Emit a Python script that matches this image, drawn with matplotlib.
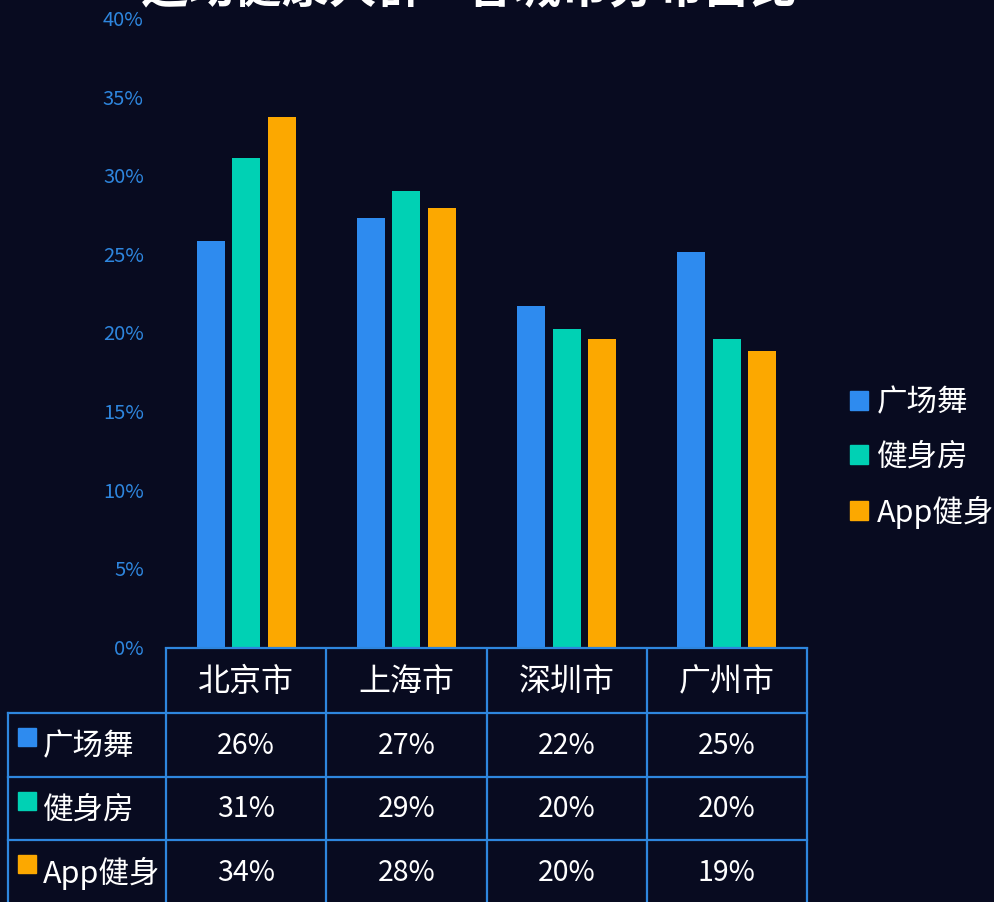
import numpy as np
import matplotlib
matplotlib.use('Agg')
import matplotlib.pyplot as plt
from matplotlib.patches import Patch, Rectangle

plt.rcParams['font.family'] = ['Noto Sans CJK SC', 'DejaVu Sans']

# ---------- 数据 ----------
cities = ['北京市', '上海市', '深圳市', '广州市']
series = ['广场舞', '健身房', 'App健身']
square_dance = [25.8, 27.3, 21.7, 25.1]
gym = [31.1, 29.0, 20.2, 19.6]
app_fitness = [33.7, 27.9, 19.6, 18.8]
yticks = [0, 5, 10, 15, 20, 25, 30, 35, 40]
title = '运动健康人群—各城市分布占比'

colors = ['#2E8BEF', '#00D1B4', '#FCA800']
BG = '#080B20'
LINE = '#2E86DE'

W, H = 994, 902
fig = plt.figure(figsize=(W / 100, H / 100), dpi=100, facecolor=BG)

# ---------- 柱状图 ----------
ax = fig.add_axes([166 / W, 1 - 647 / H, (807 - 166) / W, (647 - 18) / H])
ax.patch.set_alpha(0)
x = np.arange(len(cities))
for k, (vals, c) in enumerate(zip([square_dance, gym, app_fitness], colors)):
    ax.bar(x + (k - 1) * 0.2215, vals, width=0.175, color=c)
ax.set_xlim(-0.5, len(cities) - 0.5)
ax.set_ylim(0, 40)
ax.set_yticks(yticks)
ax.set_yticklabels([f'{v}%' for v in yticks])
ax.set_xticks([])
ax.tick_params(axis='y', length=0, pad=16, labelcolor=LINE, labelsize=14.5)
for s in ax.spines.values():
    s.set_visible(False)

# ---------- 数据表 ----------
tax = fig.add_axes([0, 0, 1, (H - 647) / H])
tax.set_xlim(0, W)
tax.set_ylim(H, 647)
tax.axis('off')

col_w = (807 - 166) / len(cities)
col_edges = [166 + col_w * i for i in range(len(cities) + 1)]
row_edges = [648, 713, 776.5, 840, 903.5]
lw = 1.6
tax.plot([166, 807], [648, 648], color=LINE, lw=lw, clip_on=False)
for y in row_edges[1:4]:
    tax.plot([8, 807], [y, y], color=LINE, lw=lw)
for xe in col_edges:
    tax.plot([xe, xe], [648, 903], color=LINE, lw=lw)
tax.plot([8, 8], [713, 903], color=LINE, lw=lw)

for i, city in enumerate(cities):
    cx = (col_edges[i] + col_edges[i + 1]) / 2
    tax.text(cx, (row_edges[0] + row_edges[1]) / 2 + 2, city, color='white',
             fontsize=23, ha='center', va='center')

for r, (name, vals, c) in enumerate(zip(series, [square_dance, gym, app_fitness], colors)):
    top, bot = row_edges[r + 1], row_edges[r + 2]
    cy = (top + bot) / 2
    tax.add_patch(Rectangle((18, top + 15), 18, 18, color=c))
    tax.text(43, cy + 2, name, color='white', fontsize=22, ha='left', va='center')
    for i, v in enumerate(vals):
        cx = (col_edges[i] + col_edges[i + 1]) / 2
        tax.text(cx, cy + 1, f'{v:.0f}%', color='white', fontsize=20.5,
                 ha='center', va='center')

# ---------- 图例 ----------
handles = [Patch(color=c) for c in colors]
fig.legend(handles, series, loc='center left', bbox_to_anchor=(838 / W, 1 - 458 / H),
           frameon=False, labelcolor='white', fontsize=22,
           handlelength=0.58, handleheight=0.58, handletextpad=0.3,
           labelspacing=0.76, borderaxespad=0)

# ---------- 标题（顶部被裁切）----------
fig.text(470 / W, 1 - 3 / H, title, color='white', fontsize=34, fontweight='bold',
         ha='center', va='baseline')

fig.savefig('out.png', dpi=100, facecolor=BG)
